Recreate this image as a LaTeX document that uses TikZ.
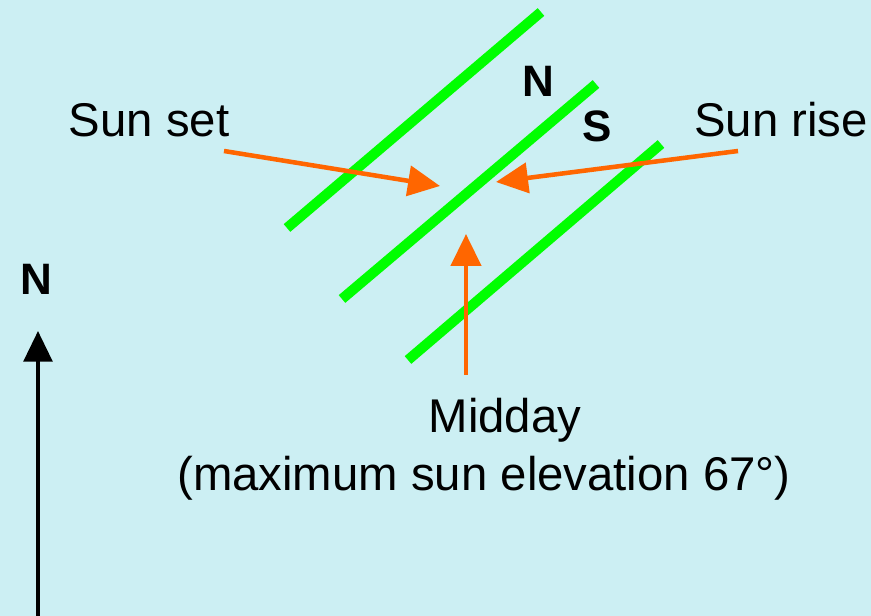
\documentclass[tikz,border=0pt]{standalone}
\usepackage{fontspec}
\setmainfont{Liberation Sans}
\usetikzlibrary{arrows.meta,positioning}
\definecolor{skybg}{RGB}{204,239,243}
\definecolor{rowgreen}{RGB}{0,255,0}
\definecolor{sunorange}{RGB}{255,102,0}

\begin{document}
\begin{tikzpicture}[
  x=0.75pt, y=-0.75pt,
  row/.style={draw=rowgreen, line width=7.6pt},
  sunarr/.style={draw=sunorange, line width=3.4pt, -{Triangle[length=24pt, width=22.5pt]}},
  label/.style={inner sep=0pt, anchor=base, font=\fontsize{35.5}{43}\selectfont},
  compass/.style={inner sep=0pt, anchor=base, font=\fontsize{33}{40}\selectfont\bfseries}
]
\fill[skybg] (0,0) rectangle (871,616);
\useasboundingbox (0,0) rectangle (871,616);
% rows
\draw[row] (287,228) -- (541,12);
\draw[row] (342,299) -- (596,84);
\draw[row] (408,360) -- (661,144);
% labels
\node[label] (set) at (149,137) {Sun set};
\node[label] (rise) at (781,137) {Sun rise};
\node[label] (mid) at (505,433) {Midday};
\node[label] (midnote) at (484,490) {(maximum sun elevation 67°)};
\node[compass] (rowN) at (538,97) {N};
\node[compass] (rowS) at (597,142) {S};
\node[compass] (north) at (36,295) {N};
% arrows
\coordinate (setfrom) at (224,151);
\coordinate (setto) at (440,186);
\coordinate (risefrom) at (738,151);
\coordinate (riseto) at (496,182);
\coordinate (midfrom) at (466,375);
\coordinate (midto) at (466,234);
\coordinate (nfrom) at (38,616);
\coordinate (nto) at (38,331);
\draw[sunarr] (setfrom) -- (setto);
\draw[sunarr] (risefrom) -- (riseto);
\draw[sunarr] (midfrom) -- (midto);
\draw[line width=2.8pt, -{Triangle[length=23pt, width=21.5pt]}] (nfrom) -- (nto);
\end{tikzpicture}
\end{document}
